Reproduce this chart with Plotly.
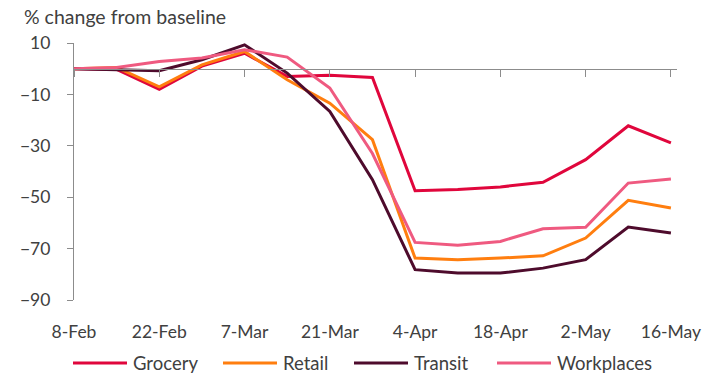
import plotly.graph_objects as go

# Weekly observations, 8-Feb to 16-May 2020
dates = ["2020-02-08", "2020-02-15", "2020-02-22", "2020-02-29", "2020-03-07",
         "2020-03-14", "2020-03-21", "2020-03-28", "2020-04-04", "2020-04-11",
         "2020-04-18", "2020-04-25", "2020-05-02", "2020-05-09", "2020-05-16"]

grocery = [0, -0.3, -8, 1, 6, -3, -2.5, -3.4, -47.5, -47, -46, -44.2, -35.4, -22.2, -28.9]
retail = [0, 0.5, -7.1, 1.5, 6.7, -4.3, -13.4, -27.6, -73.7, -74.3, -73.7, -72.8, -65.9, -51.2, -54.2]
transit = [0, -0.4, -0.8, 3.5, 9.3, -1.7, -16.6, -43.2, -78.2, -79.5, -79.5, -77.6, -74.3, -61.6, -63.9]
workplaces = [0, 0.5, 2.8, 4.2, 7.4, 4.5, -7.5, -33, -67.6, -68.7, -67.2, -62.3, -61.7, -44.5, -42.9]

series_names = ["Grocery", "Retail", "Transit", "Workplaces"]
series_values = [grocery, retail, transit, workplaces]
series_colors = ["#E0063C", "#FF7E0F", "#4E0B2C", "#EF5A80"]

tick_dates = ["2020-02-08", "2020-02-22", "2020-03-07", "2020-03-21",
              "2020-04-04", "2020-04-18", "2020-05-02", "2020-05-16"]
tick_labels = ["8-Feb", "22-Feb", "7-Mar", "21-Mar", "4-Apr", "18-Apr", "2-May", "16-May"]
y_ticks = [10, -10, -30, -50, -70, -90]

TEXT = "#404040"
AXIS = "#8C8C8C"
FONT = "Lato"

fig = go.Figure()
for name, vals, col in zip(series_names, series_values, series_colors):
    fig.add_trace(go.Scatter(x=dates, y=vals, name=name, mode="lines",
                             line=dict(color=col, width=3), showlegend=False))

# Horizontal reference axis drawn through zero, with tick marks hanging below it
fig.add_trace(go.Scatter(x=[dates[0]], y=[0], xaxis="x2", mode="none",
                         showlegend=False, hoverinfo="skip"))

W, H = 721, 381
ml, mr, mt, mb = 74, 44, 43, 81
pw, ph = W - ml - mr, H - mt - mb

# Legend laid out beneath the plot: long line samples followed by labels
legend_left_px = [73, 223, 354, 497]
sample_len = 54
legend_y = (H - mb - 363) / ph
for name, col, x0 in zip(series_names, series_colors, legend_left_px):
    fx0 = (x0 - ml) / pw
    fx1 = (x0 + sample_len - ml) / pw
    fig.add_shape(type="line", xref="paper", yref="paper", x0=fx0, x1=fx1,
                  y0=legend_y, y1=legend_y, line=dict(color=col, width=3))
    fig.add_annotation(xref="paper", yref="paper", x=fx1 + 4 / pw, y=legend_y,
                       text=name, showarrow=False, xanchor="left", yanchor="middle",
                       font=dict(family=FONT, size=18.5, color=TEXT))

fig.update_layout(
    width=W, height=H,
    margin=dict(l=ml, r=mr, t=mt, b=mb, pad=0),
    paper_bgcolor="white", plot_bgcolor="white",
    font=dict(family=FONT, size=17, color=TEXT),
    title=dict(text="% change from baseline", x=24 / W, xanchor="left", xref="container",
               y=1 - 17 / H, yanchor="middle", yref="container",
               font=dict(family=FONT, size=19.5, color=TEXT)),
    xaxis=dict(range=["2020-02-08", "2020-05-17"], tickvals=tick_dates, ticktext=tick_labels,
               showline=False, showgrid=False, zeroline=False, ticks="",
               ticklabelstandoff=19, tickfont=dict(size=17.5, color=TEXT)),
    xaxis2=dict(matches="x", overlaying="x", anchor="free", position=0.9, side="bottom",
                showline=True, linecolor=AXIS, linewidth=1.3, ticks="outside",
                ticklen=7, tickcolor=AXIS, tickwidth=1.3, tickvals=tick_dates,
                showticklabels=False, showgrid=False, zeroline=False),
    yaxis=dict(range=[-90, 10], tickvals=y_ticks, showgrid=False, zeroline=False,
               showline=True, linecolor=AXIS, linewidth=1.3, ticks="outside",
               ticklen=6, tickcolor=AXIS, tickwidth=1.3, ticklabelstandoff=13,
               tickfont=dict(size=17.5, color=TEXT)),
)

fig.write_html("out.html")
